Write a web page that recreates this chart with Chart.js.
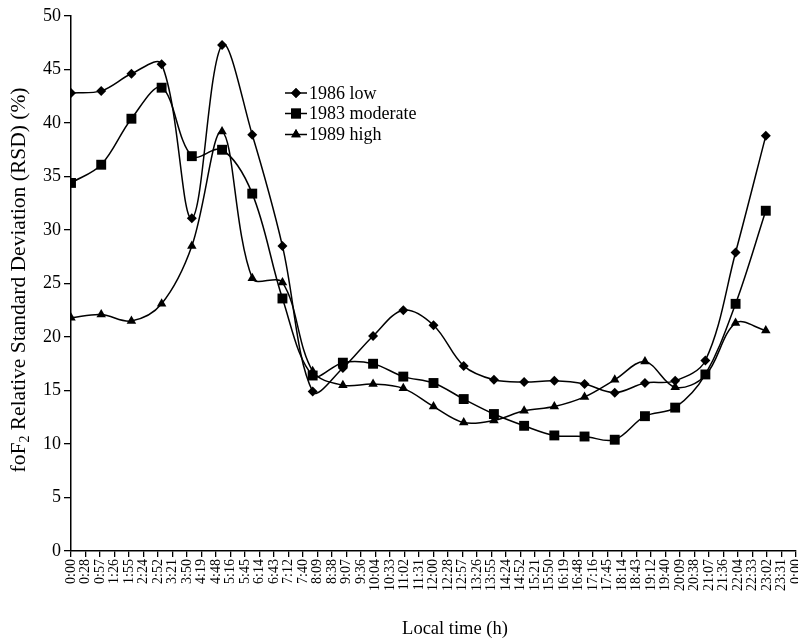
<!DOCTYPE html>
<html>
<head>
<meta charset="utf-8">
<script src="https://cdn.jsdelivr.net/npm/chart.js@4/dist/chart.umd.min.js"></script>
<style>
  html, body { margin: 0; padding: 0; background: #fff; }
  #wrap { width: 798px; height: 641px; }
</style>
</head>
<body>
<div id="wrap"><canvas id="c" width="798" height="641"></canvas></div>
<script>
// Local time of each hourly sample (h)
const hours = [0, 1, 2, 3, 4, 5, 6, 7, 8, 9, 10, 11, 12, 13, 14, 15, 16, 17, 18, 19, 20, 21, 22, 23];

// Axis labels every 0.02 day (28.8 min)
const timeTicks = ['0:00', '0:28', '0:57', '1:26', '1:55', '2:24', '2:52', '3:21', '3:50', '4:19',
  '4:48', '5:16', '5:45', '6:14', '6:43', '7:12', '7:40', '8:09', '8:38', '9:07',
  '9:36', '10:04', '10:33', '11:02', '11:31', '12:00', '12:28', '12:57', '13:26', '13:55',
  '14:24', '14:52', '15:21', '15:50', '16:19', '16:48', '17:16', '17:45', '18:14', '18:43',
  '19:12', '19:40', '20:09', '20:38', '21:07', '21:36', '22:04', '22:33', '23:02', '23:31', '0:00'];
const yTicks = [0, 5, 10, 15, 20, 25, 30, 35, 40, 45, 50];

// foF2 relative standard deviation (%)
const low1986 = [42.8, 43.0, 44.6, 45.5, 31.1, 47.3, 38.9, 28.5, 14.9, 17.1, 20.1, 22.5,
  21.1, 17.3, 16.0, 15.8, 15.9, 15.6, 14.8, 15.7, 15.9, 17.8, 27.9, 38.8];
const moderate1983 = [34.4, 36.1, 40.4, 43.3, 36.9, 37.5, 33.4, 23.6, 16.4, 17.6, 17.5, 16.3,
  15.7, 14.2, 12.8, 11.7, 10.8, 10.7, 10.4, 12.6, 13.4, 16.5, 23.1, 31.8];
const high1989 = [21.8, 22.1, 21.5, 23.1, 28.5, 39.2, 25.5, 25.1, 16.8, 15.5, 15.6, 15.2,
  13.5, 12.0, 12.2, 13.1, 13.5, 14.4, 16.0, 17.7, 15.3, 16.4, 21.3, 20.6];

const seriesNames = ['1986 low', '1983 moderate', '1989 high'];
const SERIF = "'Liberation Serif', 'Times New Roman', serif";

function toPoints(values) {
  return values.map((v, i) => ({ x: hours[i], y: v }));
}

function makeSet(label, values, style, radius) {
  return {
    label: label,
    data: toPoints(values),
    borderColor: '#000',
    backgroundColor: '#000',
    borderWidth: 1.5,
    pointStyle: style,
    pointRadius: radius,
    pointBackgroundColor: '#000',
    pointBorderColor: '#000',
    pointBorderWidth: 0,
    tension: 0.35,
    fill: false
  };
}

// Legend drawn inside the plot, left of the 5:45 peak
const innerLegend = {
  id: 'innerLegend',
  afterDraw(chart) {
    const ctx = chart.ctx;
    const rows = [93, 113.5, 134.5];
    ctx.save();
    chart.data.datasets.forEach((ds, i) => {
      const y = rows[i];
      ctx.strokeStyle = '#000';
      ctx.lineWidth = 1.5;
      ctx.beginPath();
      ctx.moveTo(285, y);
      ctx.lineTo(307, y);
      ctx.stroke();
      Chart.helpers.drawPoint(ctx, {
        pointStyle: ds.pointStyle, radius: ds.pointRadius, rotation: 0, borderWidth: 0
      }, 296, y);
      ctx.fillStyle = '#000';
      ctx.fill();
      ctx.font = '18px ' + SERIF;
      ctx.textBaseline = 'middle';
      ctx.textAlign = 'left';
      ctx.fillText(ds.label, 309, y + 1);
    });
    ctx.restore();
  }
};

// Axis titles (the y title carries a subscript 2)
const axisTitles = {
  id: 'axisTitles',
  afterDraw(chart) {
    const ctx = chart.ctx;
    ctx.save();
    ctx.fillStyle = '#000';
    ctx.textBaseline = 'alphabetic';
    ctx.font = '18.5px ' + SERIF;
    ctx.textAlign = 'center';
    ctx.fillText('Local time (h)', 455, 634);

    const big = '21.5px ' + SERIF, small = '14px ' + SERIF;
    const parts = [['foF', big, 0], ['2', small, 4], [' Relative Standard Deviation (RSD) (%)', big, 0]];
    let total = 0;
    parts.forEach(p => { ctx.font = p[1]; total += ctx.measureText(p[0]).width; });
    ctx.translate(25, 280);
    ctx.rotate(-Math.PI / 2);
    ctx.textAlign = 'left';
    let x = -total / 2;
    parts.forEach(p => {
      ctx.font = p[1];
      ctx.fillText(p[0], x, p[2]);
      x += ctx.measureText(p[0]).width;
    });
    ctx.restore();
  }
};

new Chart(document.getElementById('c'), {
  type: 'line',
  data: {
    datasets: [
      makeSet(seriesNames[0], low1986, 'rectRot', 5),
      makeSet(seriesNames[1], moderate1983, 'rect', 7),
      makeSet(seriesNames[2], high1989, 'triangle', 5.5)
    ]
  },
  options: {
    responsive: false,
    animation: false,
    layout: { autoPadding: false, padding: { top: 16, right: 2, bottom: 0, left: 1 } },
    plugins: { legend: { display: false }, tooltip: { enabled: false } },
    scales: {
      x: {
        type: 'linear',
        min: 0,
        max: 24,
        afterBuildTicks(scale) {
          scale.ticks = timeTicks.map((t, i) => ({ value: i * 0.48 }));
        },
        afterFit(scale) {
          scale.height = 90;
          scale.paddingLeft = 0;
          scale.paddingRight = 0;
        },
        ticks: {
          autoSkip: false,
          minRotation: 90,
          maxRotation: 90,
          padding: 2,
          color: '#000',
          font: { family: SERIF, size: 14 },
          callback: (v, i) => timeTicks[i]
        },
        grid: { drawOnChartArea: false, drawTicks: true, tickLength: 6, color: '#000', lineWidth: 1.3 },
        border: { display: true, color: '#000', width: 1.5 }
      },
      y: {
        min: 0,
        max: 50,
        afterBuildTicks(scale) {
          scale.ticks = yTicks.map(v => ({ value: v }));
        },
        afterFit(scale) {
          scale.width = 70;
          scale.paddingTop = 0;
          scale.paddingBottom = 0;
        },
        ticks: {
          padding: 3,
          color: '#000',
          font: { family: SERIF, size: 18 }
        },
        grid: { drawOnChartArea: false, drawTicks: true, tickLength: 7, color: '#000', lineWidth: 1.3 },
        border: { display: true, color: '#000', width: 1.5 }
      }
    }
  },
  plugins: [innerLegend, axisTitles]
});
</script>
</body>
</html>
